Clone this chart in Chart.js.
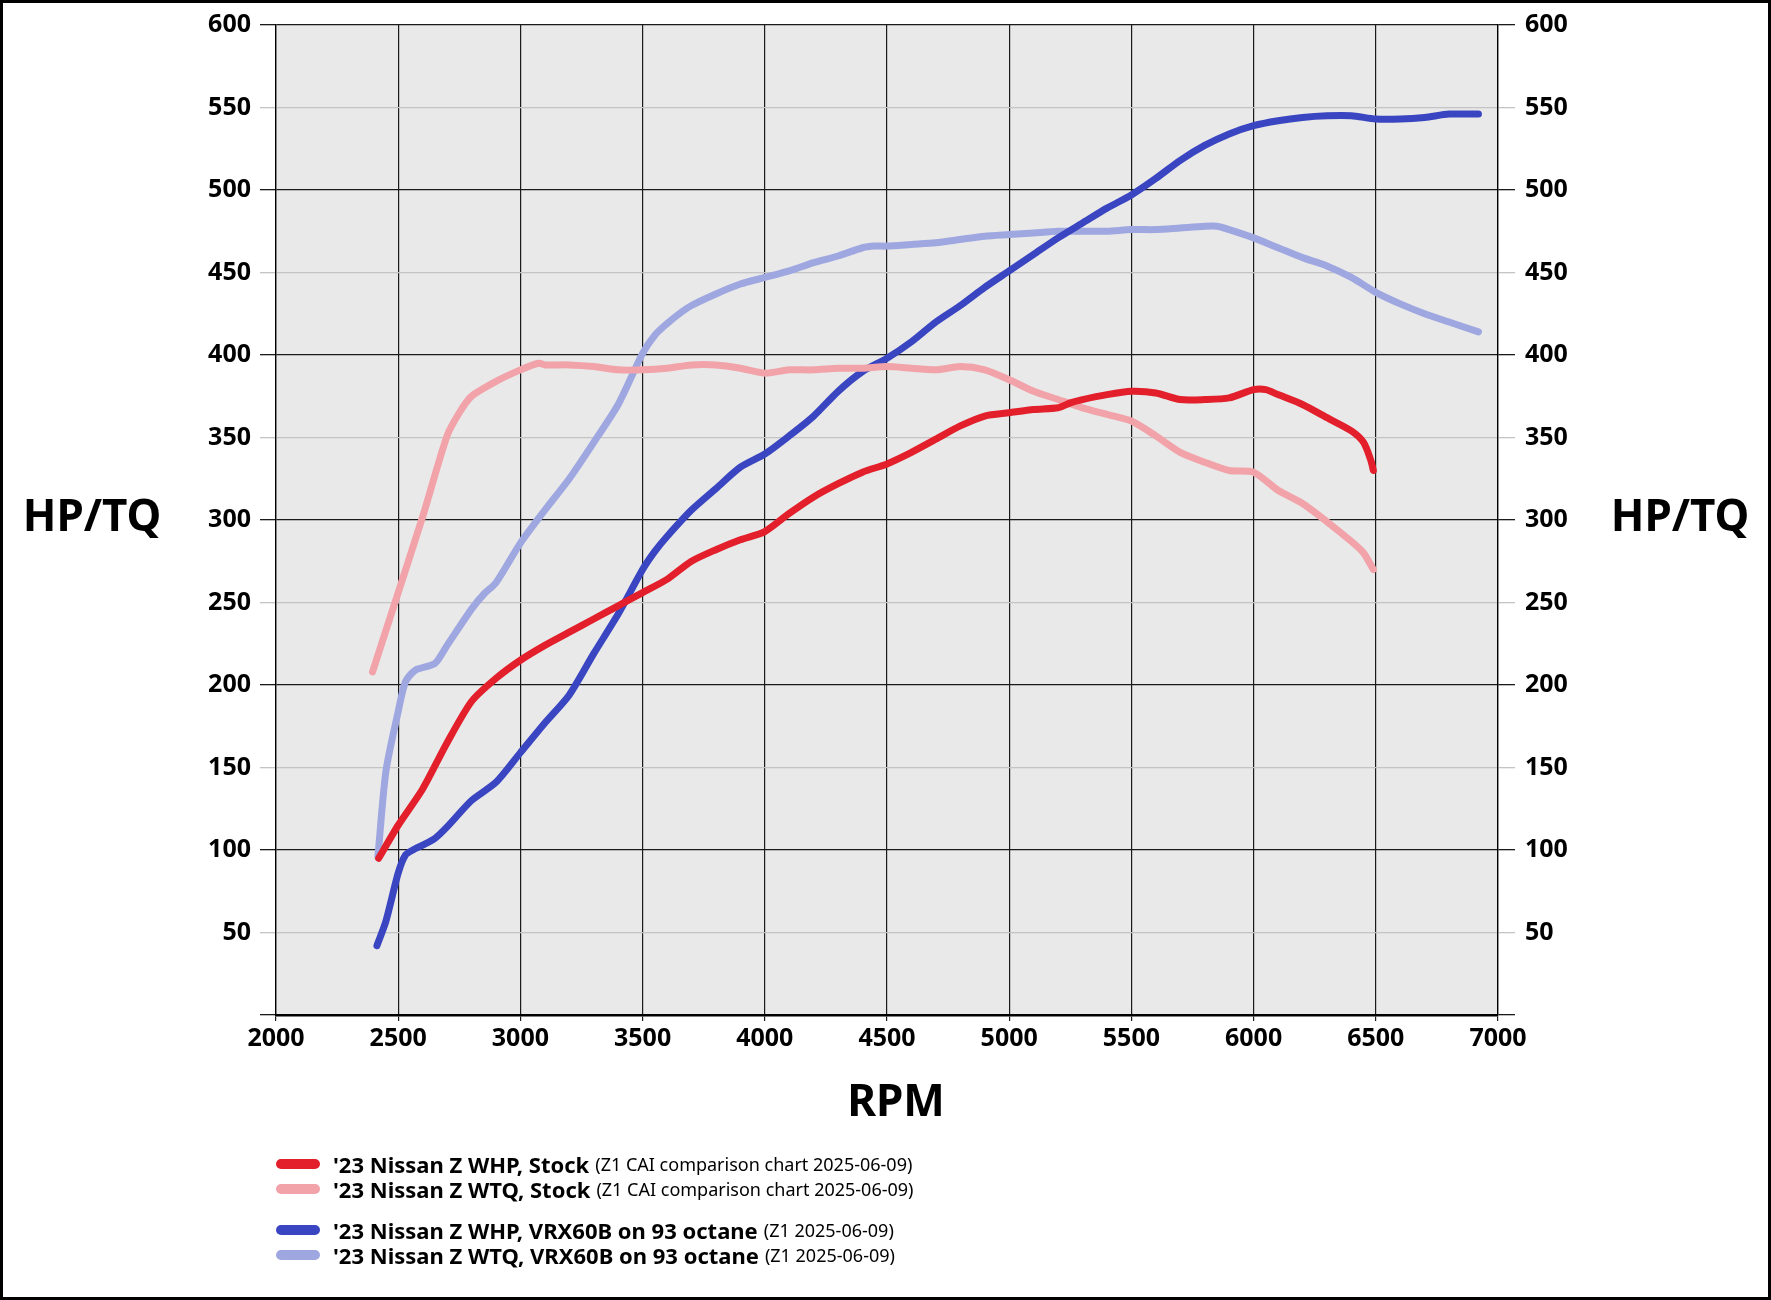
<!DOCTYPE html>
<html>
<head>
<meta charset="utf-8">
<script src="https://cdn.jsdelivr.net/npm/chart.js@4"></script>
<style>
  body { margin: 0; background: #fff; }
  #page { position: absolute; left: 0; top: 0; width: 1771px; height: 1300px; }
  #frame { position: absolute; left: 0; top: 0; width: 1771px; height: 1300px; box-sizing: border-box; border: 3px solid #000; pointer-events: none; }
  .title { position: absolute; font-family: "Noto Sans", sans-serif; font-weight: bold; font-size: 44px; color: #000; transform: translate(-50%, -50%); white-space: nowrap; }
  #legend { position: absolute; left: 276px; top: 1152px; font-family: "Noto Sans", sans-serif; color: #000; }
  .row { height: 24.5px; display: flex; align-items: center; white-space: nowrap; }
  .row.gap { margin-top: 17px; }
  .swatch { width: 44px; height: 10px; border-radius: 5px; margin-right: 13px; }
  .main { font-weight: bold; font-size: 22px; }
  .note { font-size: 18px; margin-left: 6px; }
</style>
</head>
<body>
<div id="page">
  <canvas id="dynoChart" width="1771" height="1300"></canvas>
  <div class="title" style="left:92px; top:514px;">HP/TQ</div>
  <div class="title" style="left:1680px; top:514px;">HP/TQ</div>
  <div class="title" style="left:896px; top:1099px;">RPM</div>
  <div id="legend"></div>
  <div id="frame"></div>
</div>
<script>
// stock car, red pair
const stockHpRpm = [2420, 2500, 2600, 2700, 2800, 2900, 3000, 3100, 3200, 3300, 3400, 3500, 3600, 3700, 3800, 3900, 4000, 4100, 4200, 4300, 4400, 4500, 4600, 4700, 4800, 4900, 5000, 5100, 5200, 5250, 5300, 5400, 5500, 5600, 5700, 5800, 5900, 6000, 6050, 6100, 6200, 6300, 6400, 6450, 6480, 6490];
const stockHp = [95, 115, 137, 165, 190, 204, 215, 224, 232, 240, 248, 256, 264, 275, 282, 288, 293, 304, 314, 322, 329, 334, 341, 349, 357, 363, 365, 367, 368, 371, 373, 376, 378, 377, 373, 373, 374, 379, 379, 376, 370, 362, 354, 347, 336, 330];

const stockTqRpm = [2395, 2500, 2600, 2700, 2750, 2800, 2900, 3000, 3075, 3100, 3200, 3300, 3400, 3500, 3600, 3700, 3800, 3900, 4000, 4100, 4200, 4300, 4400, 4500, 4600, 4700, 4800, 4900, 5000, 5100, 5200, 5300, 5400, 5500, 5600, 5700, 5800, 5900, 6000, 6100, 6200, 6300, 6400, 6450, 6490];
const stockTq = [208, 256, 302, 351, 365, 375, 384, 391, 395, 394, 394, 393, 391, 391, 392, 394, 394, 392, 389, 391, 391, 392, 392, 393, 392, 391, 393, 391, 385, 378, 373, 368, 364, 360, 351, 341, 335, 330, 329, 318, 310, 299, 287, 280, 270];

// VRX60B on 93, blue pair
const vrxHpRpm = [2413, 2450, 2500, 2530, 2560, 2600, 2650, 2700, 2800, 2900, 3000, 3100, 3200, 3300, 3400, 3500, 3550, 3600, 3700, 3800, 3900, 4000, 4100, 4200, 4300, 4400, 4500, 4600, 4700, 4800, 4900, 5000, 5100, 5200, 5300, 5400, 5500, 5600, 5700, 5800, 5900, 6000, 6100, 6200, 6300, 6400, 6500, 6600, 6700, 6800, 6920];
const vrxHp = [42, 57, 86, 97, 100, 103, 107, 114, 130, 141, 159, 177, 194, 219, 243, 270, 281, 290, 306, 319, 332, 340, 351, 363, 378, 390, 398, 408, 420, 430, 441, 451, 461, 471, 480, 489, 497, 507, 518, 527, 534, 539, 542, 544, 545, 545, 543, 543, 544, 546, 546];

const vrxTqRpm = [2417, 2450, 2500, 2530, 2570, 2650, 2700, 2800, 2850, 2900, 3000, 3100, 3200, 3300, 3400, 3500, 3550, 3600, 3650, 3700, 3800, 3900, 4000, 4100, 4200, 4300, 4400, 4450, 4500, 4600, 4700, 4800, 4900, 5000, 5100, 5200, 5300, 5400, 5500, 5600, 5700, 5800, 5850, 5900, 6000, 6100, 6200, 6300, 6400, 6500, 6600, 6700, 6800, 6920];
const vrxTq = [96, 148, 184, 202, 209, 213, 224, 246, 255, 262, 286, 306, 325, 347, 370, 401, 412, 419, 425, 430, 437, 443, 447, 451, 456, 460, 465, 466, 466, 467, 468, 470, 472, 473, 474, 475, 475, 475, 476, 476, 477, 478, 478, 476, 471, 465, 459, 454, 447, 438, 431, 425, 420, 414];

const seriesNames = [
    ["'23 Nissan Z WHP, Stock", '(Z1 CAI comparison chart 2025-06-09)'],
    ["'23 Nissan Z WTQ, Stock", '(Z1 CAI comparison chart 2025-06-09)'],
    ["'23 Nissan Z WHP, VRX60B on 93 octane", '(Z1 2025-06-09)'],
    ["'23 Nissan Z WTQ, VRX60B on 93 octane", '(Z1 2025-06-09)']
];
const seriesColors = ['#e21f2b', '#f2a3a9', '#3a45c1', '#9fa7e1'];

const rpmMin = 2000, rpmMax = 7000, rpmStep = 500;
const yMin = 0, yMax = 600, yStep = 50;

function toPoints(rpm, vals) {
    return rpm.map((r, i) => ({ x: r, y: vals[i] }));
}

const seriesData = [
    toPoints(stockHpRpm, stockHp),
    toPoints(stockTqRpm, stockTq),
    toPoints(vrxHpRpm, vrxHp),
    toPoints(vrxTqRpm, vrxTq)
];

// html legend
const legend = document.getElementById('legend');
seriesNames.forEach((name, i) => {
    const row = document.createElement('div');
    row.className = 'row' + (i === 2 ? ' gap' : '');
    row.innerHTML = `<div class="swatch" style="background:${seriesColors[i]}"></div>` +
        `<span class="main">${name[0]}</span><span class="note">${name[1]}</span>`;
    legend.appendChild(row);
});

const plotBg = {
    id: 'plotBg',
    beforeDraw(chart) {
        const a = chart.chartArea;
        const c = chart.ctx;
        c.save();
        c.fillStyle = '#e9e9e9';
        c.fillRect(a.left, a.top, a.right - a.left, a.bottom - a.top);
        c.restore();
    }
};

const tickFont = { family: 'Noto Sans', size: 25, weight: 'bold' };
const gridColor = (ctx) => (ctx.tick && ctx.tick.value % 100 === 0) ? '#1a1a1a' : '#c4c4c4';

const ctx = document.getElementById('dynoChart').getContext('2d');
const dynoChart = new Chart(ctx, {
    type: 'line',
    data: {
        datasets: seriesData.map((pts, i) => ({
            label: seriesNames[i][0],
            data: pts,
            borderColor: seriesColors[i],
            backgroundColor: seriesColors[i],
            borderWidth: 7,
            borderCapStyle: 'round',
            borderJoinStyle: 'round',
            pointRadius: 0,
            tension: 0.25,
            yAxisID: 'y'
        }))
    },
    options: {
        responsive: false,
        animation: false,
        layout: { padding: { top: 22, left: 0, right: 0, bottom: 245 } },
        plugins: {
            legend: { display: false },
            tooltip: { enabled: false }
        },
        scales: {
            x: {
                type: 'linear',
                min: rpmMin,
                max: rpmMax,
                ticks: { stepSize: rpmStep, color: '#000', font: tickFont, padding: 3, maxRotation: 0, callback: (v) => String(v) },
                grid: { color: '#1a1a1a', lineWidth: 1.2, tickLength: 6 },
                border: { color: '#000', width: 2.5 },
                afterFit(scale) { scale.height = 40; }
            },
            y: {
                position: 'left',
                min: yMin,
                max: yMax,
                ticks: {
                    stepSize: yStep, color: '#000', font: tickFont, padding: 9,
                    callback: (v) => v === 0 ? '' : String(v)
                },
                grid: { color: gridColor, lineWidth: 1.3, tickLength: 16 },
                border: { color: '#000', width: 1.3 },
                afterFit(scale) { scale.width = 276; }
            },
            y2: {
                position: 'right',
                min: yMin,
                max: yMax,
                ticks: {
                    stepSize: yStep, color: '#000', font: tickFont, padding: 10,
                    callback: (v) => v === 0 ? '' : String(v)
                },
                grid: { color: gridColor, lineWidth: 1.3, tickLength: 17, drawOnChartArea: false },
                border: { color: '#000', width: 1.3 },
                afterFit(scale) { scale.width = 273; }
            }
        }
    },
    plugins: [plotBg]
});
</script>
</body>
</html>
